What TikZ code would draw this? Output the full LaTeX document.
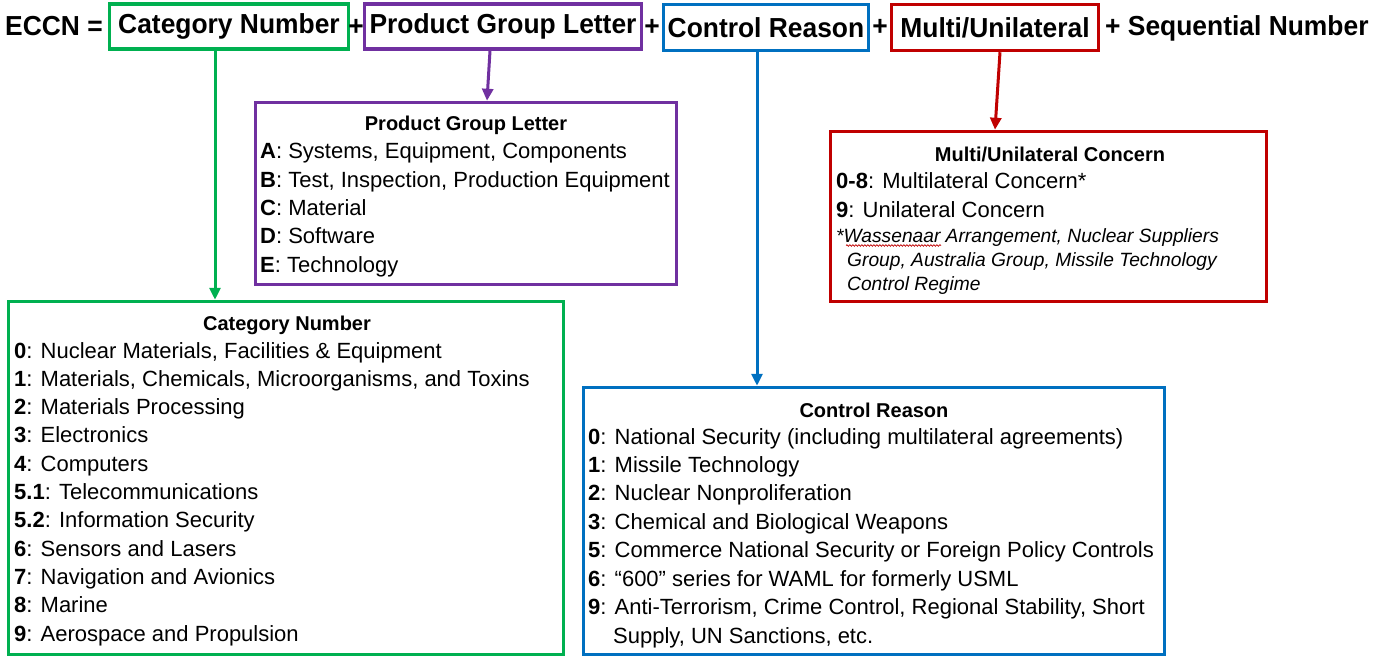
\documentclass[tikz,border=0pt]{standalone}
\usepackage{fontspec}
\setmainfont{Liberation Sans}
\newfontfamily\hdrfont[FakeStretch=0.96]{Liberation Sans}
\usetikzlibrary{arrows.meta,decorations.pathmorphing}
\definecolor{cgreen}{RGB}{0,176,80}
\definecolor{cpurple}{RGB}{112,48,160}
\definecolor{cblue}{RGB}{0,112,192}
\definecolor{cred}{RGB}{192,0,0}
\tikzset{
  hdr/.style={font=\hdrfont\bfseries\fontsize{27.5}{30}\selectfont, inner sep=0pt, anchor=base},
  hbox/.style={draw=#1, line width=3.5pt, minimum height=45pt, inner sep=0pt, font=\hdrfont\bfseries\fontsize{27.5}{30}\selectfont},
  pbox/.style={draw=#1, line width=3.5pt, inner sep=0pt},
  arr/.style={draw=#1, line width=3pt, -{Triangle[length=12pt,width=11pt]}},
  ttl/.style={font=\fontsize{20}{22}\selectfont\bfseries, anchor=base, inner sep=0pt},
  itm/.style={font=\fontsize{22}{24}\selectfont, anchor=base west, inner sep=0pt},
  note/.style={font=\fontsize{19.2}{22}\selectfont\itshape, anchor=base west, inner sep=0pt},
}
\begin{document}
\begin{tikzpicture}[x=1pt,y=-1pt]
\useasboundingbox[fill=white] (0,0) rectangle (1393,658);
% header
\node[hdr, anchor=base east] (eccn) at (103,36) {ECCN =};
\node[hbox=cgreen, minimum width=239pt] (hcat) at (229,26.5) {Category Number};
\node[hdr] (p1) at (356,36) {+};
\node[hbox=cpurple, minimum width=277pt] (hpg) at (503,26.5) {Product Group Letter};
\node[hdr] (p2) at (652,36) {+};
\node[hbox=cblue, minimum width=205pt, minimum height=46pt] (hcr) at (766,27.5) {Control Reason};
\node[hdr] (p3) at (880,36) {+};
\node[hbox=cred, minimum width=207pt, minimum height=46pt] (hmu) at (995,27.5) {Multi/Unilateral};
\node[hdr, anchor=base west] (seq) at (1105,36) {+ Sequential Number};
% boxes
\node[pbox=cpurple, minimum width=421pt, minimum height=182pt] (pg) at (466,193.5) {};
\node[pbox=cred, minimum width=436pt, minimum height=170pt] (mu) at (1048.5,216.5) {};
\node[pbox=cgreen, minimum width=555pt, minimum height=353pt] (cat) at (286,478) {};
\node[pbox=cblue, minimum width=581pt, minimum height=267pt] (cr) at (874,521) {};
% arrows
\coordinate (ga) at (215,0);
\coordinate (pa) at (490,0); \coordinate (pb) at (487,0);
\coordinate (ba) at (757,0);
\coordinate (ra) at (1000,0); \coordinate (rb) at (995,0);
\draw[arr=cgreen] (hcat.south -| ga) -- (cat.north -| ga);
\draw[arr=cpurple] (hpg.south -| pa) -- (pg.north -| pb);
\draw[arr=cblue] (hcr.south -| ba) -- (cr.north -| ba);
\draw[arr=cred] (hmu.south -| ra) -- (mu.north -| rb);
% product group
\node[ttl] (pgt) at (466,131) {Product Group Letter};
\foreach [count=\i from 0] \t in {{\textbf{A}: Systems, Equipment, Components},
  {\textbf{B}: Test, Inspection, Production Equipment},
  {\textbf{C}: Material},{\textbf{D}: Software},{\textbf{E}: Technology}}
  \node[itm] (pg\i) at (260,{159+28.3*\i}) {\t};
% multi
\node[ttl] (mut) at (1050,162) {Multi/Unilateral Concern};
\node[itm] (mu1) at (836,189) {\textbf{0-8}: Multilateral Concern*};
\node[itm] (mu2) at (836,218) {\textbf{9}: Unilateral Concern};
\node[note] (mu3) at (836,242) {*Wassenaar Arrangement, Nuclear Suppliers};
\node[note] (mu4) at (847,266) {Group, Australia Group, Missile Technology};
\node[note] (mu5) at (847,290) {Control Regime};
\draw[cred, line width=0.7pt, decorate, decoration={snake, amplitude=0.8pt, segment length=3pt}]
  ([xshift=10pt,yshift=-3.5pt]mu3.base west) -- ([xshift=105pt,yshift=-3.5pt]mu3.base west);
% category
\node[ttl] (catt) at (287,330) {Category Number};
\foreach [count=\i from 0] \t in {{\textbf{0}: Nuclear Materials, Facilities \& Equipment},
  {\textbf{1}: Materials, Chemicals, Microorganisms, and Toxins},
  {\textbf{2}: Materials Processing},{\textbf{3}: Electronics},{\textbf{4}: Computers},
  {\textbf{5.1}: Telecommunications},{\textbf{5.2}: Information Security},
  {\textbf{6}: Sensors and Lasers},{\textbf{7}: Navigation and Avionics},
  {\textbf{8}: Marine},{\textbf{9}: Aerospace and Propulsion}}
  \node[itm] (cat\i) at (14,{358+28.3*\i}) {\t};
% control reason
\node[ttl] (crt) at (874,417) {Control Reason};
\foreach [count=\i from 0] \t in {{\textbf{0}: National Security (including multilateral agreements)},
  {\textbf{1}: Missile Technology},{\textbf{2}: Nuclear Nonproliferation},
  {\textbf{3}: Chemical and Biological Weapons},
  {\textbf{5}: Commerce National Security or Foreign Policy Controls},
  {\textbf{6}: “600” series for WAML for formerly USML},
  {\textbf{9}: Anti-Terrorism, Crime Control, Regional Stability, Short}}
  \node[itm] (cr\i) at (588,{444+28.4*\i}) {\t};
\node[itm] (cr7) at (613,643) {Supply, UN Sanctions, etc.};
\end{tikzpicture}
\end{document}
